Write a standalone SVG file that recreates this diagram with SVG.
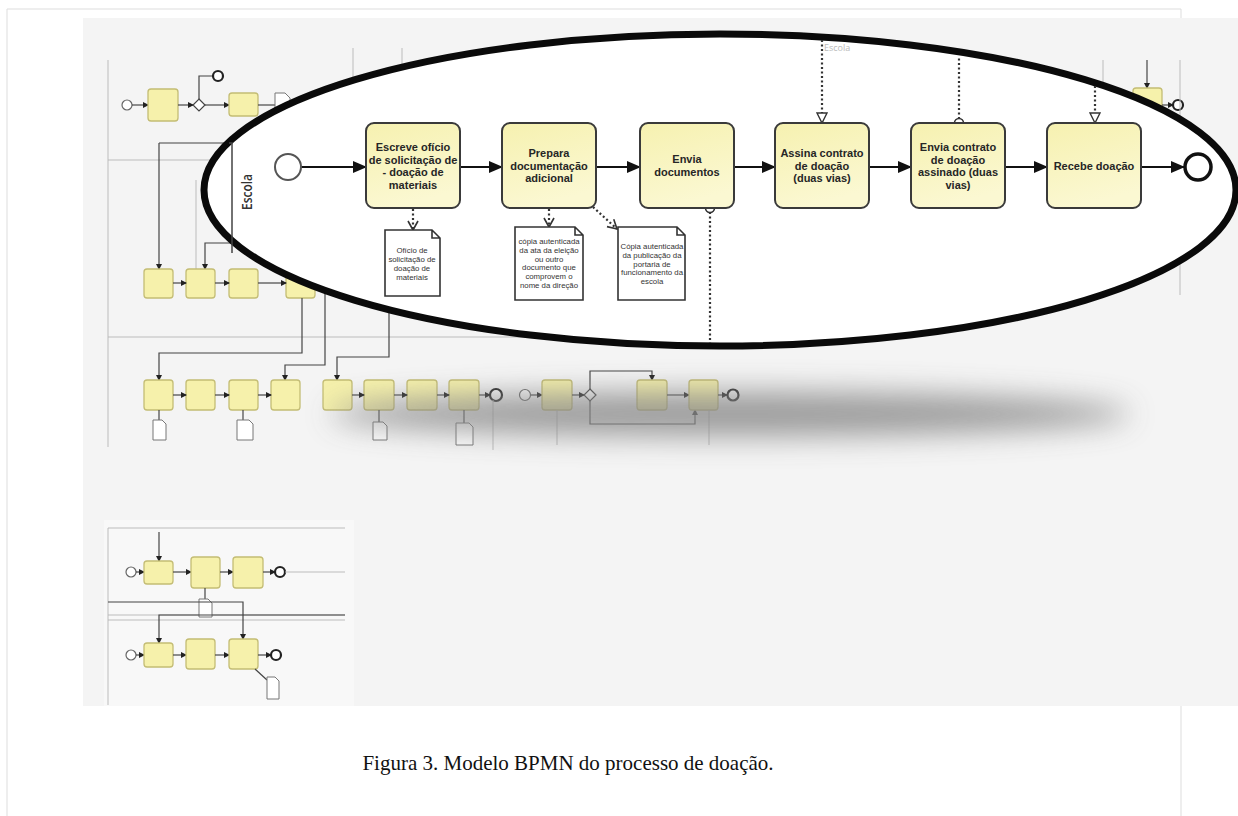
<svg xmlns="http://www.w3.org/2000/svg" width="1238" height="816" viewBox="0 0 1238 816">
<style>
.task{fill:url(#tg);stroke:#3a3a3a;stroke-width:2}
.tl{font-family:"Liberation Sans",Arial,sans-serif;font-size:11px;font-weight:bold;fill:#262626;text-anchor:middle}
.doc{fill:#fff;stroke:#333;stroke-width:1.6}
.dl{font-family:"Liberation Sans",Arial,sans-serif;font-size:7.8px;fill:#333;text-anchor:middle}
.seq{stroke:#111;stroke-width:2.2;fill:none;marker-end:url(#ah)}
.assoc{stroke:#333;stroke-width:2.2;fill:none;stroke-dasharray:2 2.5;marker-end:url(#oa)}
.msg{stroke:#333;stroke-width:2.2;fill:none;stroke-dasharray:2 2.5}
.bt{fill:#f6f1ab;stroke:#c4bd74;stroke-width:1.3}
.bl{stroke:#444;stroke-width:1.2;fill:none}
.ba{stroke:#444;stroke-width:1.2;fill:none;marker-end:url(#sa)}
.fl{stroke:#bbb;stroke-width:1;fill:none}
.bc{fill:#fff;stroke:#666;stroke-width:1.2}
.be{fill:#fff;stroke:#222;stroke-width:2.2}
.bd{fill:#fff;stroke:#777;stroke-width:1}
.ev{fill:#fff;stroke:#555;stroke-width:2}
.evEnd{fill:#fff;stroke:#111;stroke-width:3.5}
.mc{fill:#fff;stroke:#333;stroke-width:1.6}
</style>
<defs>
<linearGradient id="tg" x1="0" y1="0" x2="0.3" y2="1">
<stop offset="0" stop-color="#f6f1b0"/>
<stop offset="1" stop-color="#fbf8d2"/>
</linearGradient>
<marker id="ah" markerUnits="userSpaceOnUse" markerWidth="14" markerHeight="12" refX="13" refY="6" orient="auto"><path d="M0,0 L14,6 L0,12 z" fill="#111"/></marker>
<marker id="oa" markerUnits="userSpaceOnUse" markerWidth="12" markerHeight="12" refX="10" refY="6" orient="auto"><path d="M1,1 L10,6 L1,11" fill="none" stroke="#333" stroke-width="1.6"/></marker>
<marker id="ot" markerUnits="userSpaceOnUse" markerWidth="12" markerHeight="12" refX="11" refY="6" orient="auto"><path d="M1,1 L11,6 L1,11 z" fill="#fff" stroke="#333" stroke-width="1.4"/></marker>
<marker id="sa" markerUnits="userSpaceOnUse" markerWidth="6" markerHeight="6" refX="5" refY="3" orient="auto"><path d="M0,0 L6,3 L0,6 z" fill="#222"/></marker>
<filter id="soft" x="-5%" y="-5%" width="110%" height="110%"><feGaussianBlur stdDeviation="0.5"/></filter>
<filter id="shadowBlur" x="-30%" y="-200%" width="160%" height="500%"><feGaussianBlur stdDeviation="15"/></filter>
</defs>

<!-- page -->
<rect x="0" y="0" width="1238" height="816" fill="#fff"/>
<path d="M7,816 V9 H1181 V816" fill="none" stroke="#ddd" stroke-width="1"/>
<rect x="83" y="18" width="1155" height="688" fill="#f4f4f4"/>
<rect x="104" y="520" width="250" height="186" fill="#f8f8f8"/>

<!-- blurred background process model -->
<g id="background-model" filter="url(#soft)">
  <line class="fl" x1="108" y1="60" x2="108" y2="447" stroke="#999"/>
  <line class="fl" x1="108" y1="160" x2="230" y2="160"/>
  <line class="fl" x1="108" y1="337" x2="720" y2="337"/>
  <line class="fl" x1="353" y1="48" x2="353" y2="78"/>
  <line class="fl" x1="402" y1="48" x2="402" y2="72"/>
  <circle cx="446" cy="77" r="1.2" fill="#888"/>
  <circle class="bc" cx="127" cy="105" r="5"/>
  <line class="ba" x1="132" y1="105" x2="148" y2="105"/>
  <rect class="bt" x="148" y="89" width="30" height="32" rx="3"/>
  <line class="ba" x1="178" y1="105" x2="193" y2="105"/>
  <path d="M199,99 L205,105 L199,111 L193,105 z" fill="#fff" stroke="#444" stroke-width="1.2"/>
  <path class="bl" d="M199,99 V76 H212"/>
  <circle class="be" cx="218" cy="76" r="5"/>
  <line class="ba" x1="205" y1="105" x2="229" y2="105"/>
  <rect class="bt" x="229" y="93" width="29" height="23" rx="3"/>
  <line class="bl" x1="258" y1="105" x2="275" y2="105"/>
  <path class="bd" d="M275,93 H285 L290,98 V113 H275 z"/>
  <path class="ba" d="M159,143 H232 M159,143 V269"/>
  <line class="fl" x1="196" y1="180" x2="196" y2="269" stroke="#888"/>
  <path class="ba" d="M232,243 H205 V269"/>
  <rect class="bt" x="144" y="269" width="29" height="29" rx="3"/>
  <rect class="bt" x="186" y="269" width="29" height="29" rx="3"/>
  <rect class="bt" x="229" y="269" width="29" height="29" rx="3"/>
  <rect class="bt" x="286" y="269" width="29" height="29" rx="3"/>
  <line class="ba" x1="173" y1="283" x2="186" y2="283"/>
  <line class="ba" x1="215" y1="283" x2="229" y2="283"/>
  <line class="ba" x1="258" y1="283" x2="286" y2="283"/>
  <path class="ba" d="M302,298 V353 H159 V380"/>
  <path class="ba" d="M325,290 V365 H285 V380"/>
  <path class="ba" d="M389,311 V357 H337 V380"/>
  <rect class="bt" x="144" y="380" width="29" height="30" rx="3"/>
  <rect class="bt" x="186" y="380" width="29" height="30" rx="3"/>
  <rect class="bt" x="229" y="380" width="29" height="30" rx="3"/>
  <rect class="bt" x="271" y="380" width="29" height="30" rx="3"/>
  <rect class="bt" x="323" y="380" width="29" height="30" rx="3"/>
  <rect class="bt" x="364" y="380" width="30" height="30" rx="3"/>
  <rect class="bt" x="407" y="380" width="30" height="30" rx="3"/>
  <rect class="bt" x="449" y="380" width="30" height="30" rx="3"/>
  <line class="ba" x1="173" y1="395" x2="186" y2="395"/>
  <line class="ba" x1="215" y1="395" x2="229" y2="395"/>
  <line class="ba" x1="258" y1="395" x2="271" y2="395"/>
  <line class="ba" x1="352" y1="395" x2="364" y2="395"/>
  <line class="ba" x1="394" y1="395" x2="407" y2="395"/>
  <line class="ba" x1="437" y1="395" x2="449" y2="395"/>
  <line class="ba" x1="479" y1="395" x2="490" y2="395"/>
  <circle class="be" cx="496" cy="395" r="6"/>
  <circle class="bc" cx="525" cy="395" r="5.5"/>
  <line class="ba" x1="531" y1="395" x2="542" y2="395"/>
  <rect class="bt" x="542" y="380" width="30" height="30" rx="3"/>
  <line class="ba" x1="572" y1="395" x2="584" y2="395"/>
  <path d="M590,389 L596,395 L590,401 L584,395 z" fill="#fff" stroke="#444" stroke-width="1.2"/>
  <path class="ba" d="M590,389 V371 H652 V380"/>
  <path class="ba" d="M590,401 V424 H695 V410"/>
  <rect class="bt" x="637" y="380" width="30" height="30" rx="3"/>
  <line class="ba" x1="667" y1="395" x2="689" y2="395"/>
  <rect class="bt" x="689" y="380" width="29" height="30" rx="3"/>
  <line class="ba" x1="718" y1="395" x2="727" y2="395"/>
  <circle class="be" cx="733" cy="395" r="5.5"/>
  <line class="bl" x1="159" y1="410" x2="159" y2="420"/>
  <path class="bd" d="M153,420 H162 L166,424 V440 H153 z"/>
  <line class="bl" x1="243" y1="410" x2="243" y2="420"/>
  <path class="bd" d="M237,420 H249 L253,424 V440 H237 z"/>
  <line class="bl" x1="379" y1="410" x2="379" y2="422"/>
  <path class="bd" d="M373,422 H383 L387,426 V440 H373 z"/>
  <line class="bl" x1="464" y1="410" x2="464" y2="423"/>
  <path class="bd" d="M456,423 H469 L473,427 V445 H456 z"/>
  <line class="fl" x1="493" y1="400" x2="493" y2="450" stroke="#999"/>
  <line class="fl" x1="557" y1="410" x2="557" y2="445" stroke="#999"/>
  <line class="fl" x1="709" y1="410" x2="709" y2="445" stroke="#999"/>
  <line class="fl" x1="1103" y1="60" x2="1103" y2="82" stroke="#999"/>
  <line class="ba" x1="1147" y1="60" x2="1147" y2="88"/>
  <rect class="bt" x="1133" y="88" width="29" height="22" rx="3"/>
  <line class="ba" x1="1162" y1="105" x2="1173" y2="105"/>
  <circle class="be" cx="1178" cy="105" r="5"/>
  <line class="fl" x1="1180" y1="60" x2="1180" y2="295" stroke="#ccc"/>
  <line class="fl" x1="108" y1="528" x2="108" y2="705" stroke="#999"/>
  <line class="fl" x1="108" y1="528" x2="345" y2="528" stroke="#ddd"/>
  <line class="fl" x1="108" y1="615" x2="345" y2="615" stroke="#999"/>
  <line class="fl" x1="108" y1="620" x2="345" y2="620" stroke="#999"/>
  <line class="ba" x1="159" y1="532" x2="159" y2="561"/>
  <circle class="bc" cx="131" cy="572" r="5"/>
  <line class="ba" x1="136" y1="572" x2="144" y2="572"/>
  <rect class="bt" x="144" y="561" width="29" height="23" rx="3"/>
  <line class="ba" x1="173" y1="572" x2="191" y2="572"/>
  <rect class="bt" x="191" y="557" width="29" height="31" rx="3"/>
  <line class="ba" x1="220" y1="572" x2="233" y2="572"/>
  <rect class="bt" x="233" y="557" width="30" height="31" rx="3"/>
  <line class="ba" x1="263" y1="572" x2="275" y2="572"/>
  <circle class="be" cx="280" cy="572" r="5"/>
  <line class="fl" x1="285" y1="572" x2="345" y2="572" stroke="#999"/>
  <line class="bl" x1="205" y1="588" x2="205" y2="599"/>
  <path class="bd" d="M199,599 H208 L212,603 V617 H199 z"/>
  <path class="ba" d="M108,602 H243 V639"/>
  <path class="ba" d="M345,615 H159 V643"/>
  <circle class="bc" cx="131" cy="655" r="5"/>
  <line class="ba" x1="136" y1="655" x2="144" y2="655"/>
  <rect class="bt" x="144" y="643" width="29" height="24" rx="3"/>
  <line class="ba" x1="173" y1="655" x2="186" y2="655"/>
  <rect class="bt" x="186" y="639" width="29" height="30" rx="3"/>
  <line class="ba" x1="215" y1="655" x2="229" y2="655"/>
  <rect class="bt" x="229" y="639" width="29" height="30" rx="3"/>
  <line class="ba" x1="258" y1="655" x2="271" y2="655"/>
  <circle class="be" cx="276" cy="655" r="5"/>
  <line class="bl" x1="255" y1="669" x2="267" y2="680"/>
  <path class="bd" d="M267,677 H275 L279,681 V699 H267 z"/>
</g>

<!-- shadow of the lens -->
<ellipse cx="730" cy="414" rx="400" ry="22" fill="#8a8a8a" opacity="0.85" filter="url(#shadowBlur)"/>

<!-- magnifying lens -->
<g id="lens">
  <ellipse cx="720" cy="190" rx="516" ry="156" fill="#fff" stroke="#0a0a0a" stroke-width="7"/>
  <path d="M229,143 H232 V253" fill="none" stroke="#444" stroke-width="1.5"/>
  <text x="824" y="51" font-family="'Open Sans','Liberation Sans',sans-serif" font-size="9" fill="#bbb">Escola</text>
</g>

<g id="pool-label">
  <text transform="translate(252,192) rotate(-90)" font-family="'Open Sans','Liberation Sans',sans-serif" font-size="14" font-weight="600" fill="#333" text-anchor="middle" textLength="36" lengthAdjust="spacingAndGlyphs">Escola</text>
</g>

<!-- connectors -->
<g id="connectors">
  <line class="seq" x1="301" y1="167" x2="366" y2="167"/>
  <line class="seq" x1="460" y1="167" x2="502" y2="167"/>
  <line class="seq" x1="596" y1="167" x2="640" y2="167"/>
  <line class="seq" x1="734" y1="167" x2="775" y2="167"/>
  <line class="seq" x1="869" y1="167" x2="911" y2="167"/>
  <line class="seq" x1="1005" y1="167" x2="1047" y2="167"/>
  <line class="seq" x1="1141" y1="167" x2="1184" y2="167"/>
  <line class="assoc" x1="413" y1="209" x2="413" y2="230"/>
  <line class="assoc" x1="549" y1="209" x2="549" y2="227"/>
  <line class="assoc" x1="593" y1="207" x2="617" y2="229"/>
  <line class="msg" x1="822" y1="40" x2="822" y2="123" marker-end="url(#ot)"/>
  <line class="msg" x1="959" y1="119" x2="959" y2="56"/>
  <circle class="mc" cx="959" cy="123" r="4.5"/>
  <line class="msg" x1="1095" y1="86" x2="1095" y2="123" marker-end="url(#ot)"/>
  <line class="msg" x1="710" y1="212" x2="710" y2="343"/>
  <circle class="mc" cx="710" cy="208" r="4.5"/>
</g>

<!-- nodes -->
<g id="start">
  <circle class="ev" cx="288" cy="167" r="13"/>
</g>
<g id="task-escreve">
  <rect class="task" x="366" y="123" width="94" height="85" rx="8"/>
  <text class="tl"><tspan x="413" y="151">Escreve ofício</tspan><tspan x="413" y="163.5">de solicitação de</tspan><tspan x="413" y="176">- doação de</tspan><tspan x="413" y="188.5">materiais</tspan></text>
</g>
<g id="task-prepara">
  <rect class="task" x="502" y="123" width="94" height="85" rx="8"/>
  <text class="tl"><tspan x="549" y="157">Prepara</tspan><tspan x="549" y="169.5">documentação</tspan><tspan x="549" y="182">adicional</tspan></text>
</g>
<g id="task-envia-docs">
  <rect class="task" x="640" y="123" width="94" height="85" rx="8"/>
  <text class="tl"><tspan x="687" y="163">Envia</tspan><tspan x="687" y="175.5">documentos</tspan></text>
</g>
<g id="task-assina">
  <rect class="task" x="775" y="123" width="94" height="85" rx="8"/>
  <text class="tl"><tspan x="822" y="157">Assina contrato</tspan><tspan x="822" y="169.5">de doação</tspan><tspan x="822" y="182">(duas vias)</tspan></text>
</g>
<g id="task-envia-contrato">
  <rect class="task" x="911" y="123" width="94" height="85" rx="8"/>
  <text class="tl"><tspan x="958" y="151">Envia contrato</tspan><tspan x="958" y="163.5">de doação</tspan><tspan x="958" y="176">assinado (duas</tspan><tspan x="958" y="188.5">vias)</tspan></text>
</g>
<g id="task-recebe">
  <rect class="task" x="1047" y="123" width="94" height="85" rx="8"/>
  <text class="tl" x="1094" y="170">Recebe doação</text>
</g>
<g id="end">
  <circle class="evEnd" cx="1198" cy="167" r="13"/>
</g>
<g id="doc-oficio">
  <path class="doc" d="M385,230 H432 L440,238 V296 H385 Z M432,230 V238 H440"/>
  <text class="dl"><tspan x="412" y="253">Ofício de</tspan><tspan x="412" y="262">solicitação de</tspan><tspan x="412" y="271">doação de</tspan><tspan x="412" y="280">materiais</tspan></text>
</g>
<g id="doc-ata">
  <path class="doc" d="M515,227 H575 L583,235 V300 H515 Z M575,227 V235 H583"/>
  <text class="dl"><tspan x="549" y="244">cópia autenticada</tspan><tspan x="549" y="252.8">da ata da eleição</tspan><tspan x="549" y="261.6">ou outro</tspan><tspan x="549" y="270.4">documento que</tspan><tspan x="549" y="279.2">comprovem o</tspan><tspan x="549" y="288">nome da direção</tspan></text>
</g>
<g id="doc-portaria">
  <path class="doc" d="M618,227 H677 L685,235 V300 H618 Z M677,227 V235 H685"/>
  <text class="dl"><tspan x="652" y="249">Cópia autenticada</tspan><tspan x="652" y="257.8">da publicação da</tspan><tspan x="652" y="266.6">portaria de</tspan><tspan x="652" y="275.4">funcionamento da</tspan><tspan x="652" y="284.2">escola</tspan></text>
</g>

<text x="568" y="770" font-family="'Liberation Serif','Times New Roman',serif" font-size="21" fill="#111" text-anchor="middle">Figura 3. Modelo BPMN do processo de doação.</text>
</svg>
